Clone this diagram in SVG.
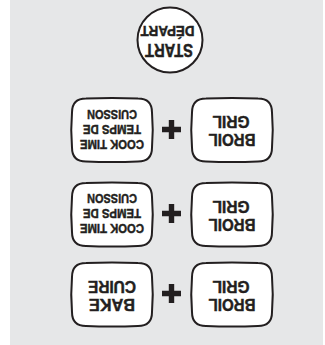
<svg xmlns="http://www.w3.org/2000/svg" width="325" height="345" viewBox="0 0 325 345">
<style>
.bg{fill:#e6e7e8}
.key{fill:#fff;stroke:#231f20;stroke-width:2}
.t{font-family:"Liberation Sans",Arial,sans-serif;font-weight:bold;fill:#231f20;stroke:#231f20;stroke-width:0.45;text-anchor:middle}
.s{font-size:13.5px}
.m{font-size:16.5px}
.plus{fill:#231f20}
</style>
<defs>
<path id="btn" d="M14 0 Q40 -1 66 0 Q80 0 80 14 Q81.5 31.5 80 49 Q80 63 66 63 Q40 64 14 63 Q0 63 0 49 Q-1.5 31.5 0 14 Q0 0 14 0 Z"/>
<path id="plusShape" d="M-2.7 -9.5 H2.7 V-2.7 H9.5 V2.7 H2.7 V9.5 H-2.7 V2.7 H-9.5 V-2.7 H-2.7 Z"/>
</defs>
<rect class="bg" x="10" y="0" width="313" height="345"/>
<g id="start">
<circle class="key" cx="170" cy="40" r="32.5"/>
<g transform="rotate(180 170 40)">
<text class="t" x="171" y="36" font-size="17.5" textLength="48" lengthAdjust="spacingAndGlyphs">START</text>
<text class="t" x="172.5" y="54" font-size="14.5" textLength="54" lengthAdjust="spacingAndGlyphs">DÉPART</text>
</g>
</g>
<g id="row1-cook">
<use href="#btn" class="key" x="72" y="98.5"/>
<g transform="rotate(180 112 130)">
<text class="t s" x="112" y="120.5" textLength="64" lengthAdjust="spacingAndGlyphs">COOK TIME</text>
<text class="t s" x="112" y="135.5" textLength="58" lengthAdjust="spacingAndGlyphs">TEMPS DE</text>
<text class="t s" x="112" y="150.5" textLength="50" lengthAdjust="spacingAndGlyphs">CUISSON</text>
</g>
</g>
<g id="row1-plus"><use href="#plusShape" class="plus" x="171.5" y="129.5"/></g>
<g id="row1-broil">
<use href="#btn" class="key" x="192" y="98.5"/>
<g transform="rotate(180 232 130)">
<text class="t m" x="232" y="126" textLength="47" lengthAdjust="spacingAndGlyphs">BROIL</text>
<text class="t m" x="233" y="144" textLength="37" lengthAdjust="spacingAndGlyphs">GRIL</text>
</g>
</g>
<g id="row2-cook">
<use href="#btn" class="key" x="72" y="183"/>
<g transform="rotate(180 112 214.5)">
<text class="t s" x="112" y="205" textLength="64" lengthAdjust="spacingAndGlyphs">COOK TIME</text>
<text class="t s" x="112" y="220" textLength="58" lengthAdjust="spacingAndGlyphs">TEMPS DE</text>
<text class="t s" x="112" y="235" textLength="50" lengthAdjust="spacingAndGlyphs">CUISSON</text>
</g>
</g>
<g id="row2-plus"><use href="#plusShape" class="plus" x="171.5" y="213.5"/></g>
<g id="row2-broil">
<use href="#btn" class="key" x="192" y="183"/>
<g transform="rotate(180 232 214.5)">
<text class="t m" x="232" y="210.5" textLength="47" lengthAdjust="spacingAndGlyphs">BROIL</text>
<text class="t m" x="233" y="228.5" textLength="37" lengthAdjust="spacingAndGlyphs">GRIL</text>
</g>
</g>
<g id="row3-bake">
<use href="#btn" class="key" x="72" y="263"/>
<g transform="rotate(180 112 294.5)">
<text class="t m" x="112" y="290" textLength="46" lengthAdjust="spacingAndGlyphs">BAKE</text>
<text class="t m" x="112" y="308.5" textLength="48" lengthAdjust="spacingAndGlyphs">CUIRE</text>
</g>
</g>
<g id="row3-plus"><use href="#plusShape" class="plus" x="171.5" y="293.5"/></g>
<g id="row3-broil">
<use href="#btn" class="key" x="192" y="263"/>
<g transform="rotate(180 232 294.5)">
<text class="t m" x="232" y="290.5" textLength="47" lengthAdjust="spacingAndGlyphs">BROIL</text>
<text class="t m" x="233" y="308.5" textLength="37" lengthAdjust="spacingAndGlyphs">GRIL</text>
</g>
</g>
<g id="connectors"></g>
</svg>
